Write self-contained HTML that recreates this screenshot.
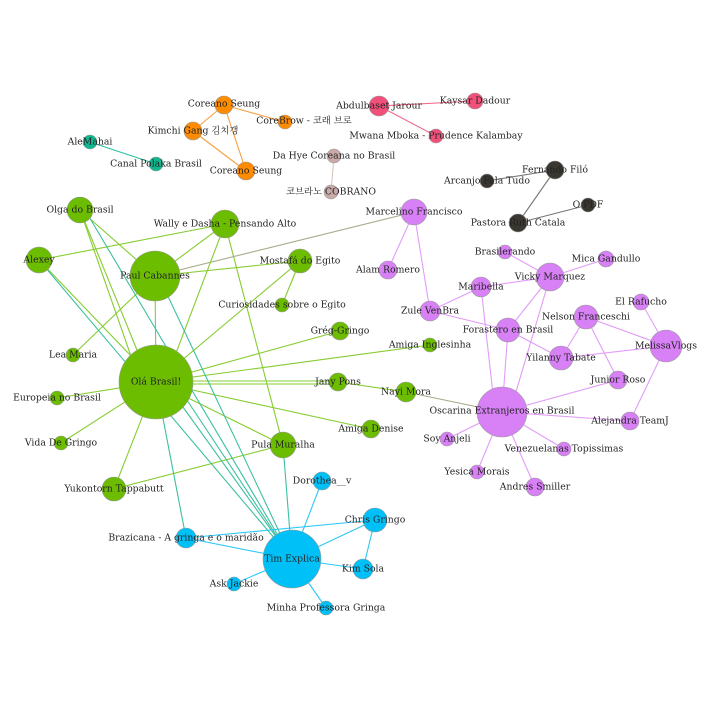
<!DOCTYPE html>
<html><head><meta charset="utf-8"><style>
html,body{margin:0;padding:0;background:#fff;}
svg text{font-family:"DejaVu Serif","Noto Serif CJK SC","Noto Sans CJK KR",serif;font-size:9.3px;fill:#222;text-anchor:middle;dominant-baseline:central;}
circle{stroke:#999;stroke-width:0.6;}
line{stroke-width:1.1;}
</style></head><body>
<svg width="710" height="710" viewBox="0 0 710 710" xmlns="http://www.w3.org/2000/svg">
<g stroke="#f7a040">
<line x1="224" y1="105" x2="285" y2="122"/><line x1="224" y1="105" x2="193" y2="131"/><line x1="224" y1="105" x2="246" y2="171"/><line x1="193" y1="131" x2="246" y2="171"/>
</g>
<line x1="90" y1="142" x2="156" y2="164" stroke="#2cc0a0"/>
<g stroke="#f26a8a"><line x1="379" y1="106" x2="475" y2="101"/><line x1="379" y1="106" x2="436" y2="136"/></g>
<line x1="334" y1="156" x2="331" y2="192" stroke="#d8c4c0"/>
<g stroke="#777"><line x1="487" y1="181" x2="555" y2="170"/><line x1="555" y1="170" x2="518" y2="223"/><line x1="518" y1="223" x2="588" y2="205"/></g>
<g stroke="#e29cf8">
<line x1="414" y1="212" x2="388" y2="270"/><line x1="414" y1="212" x2="430" y2="311"/><line x1="430" y1="311" x2="481" y2="287"/><line x1="430" y1="311" x2="508" y2="330"/>
<line x1="481" y1="287" x2="550" y2="277"/><line x1="505" y1="252" x2="550" y2="277"/><line x1="550" y1="277" x2="606" y2="259"/><line x1="550" y1="277" x2="508" y2="330"/>
<line x1="481" y1="287" x2="495" y2="412"/><line x1="550" y1="277" x2="510" y2="412"/><line x1="508" y1="330" x2="502" y2="412"/><line x1="508" y1="330" x2="561" y2="358"/>
<line x1="586" y1="317" x2="561" y2="358"/><line x1="586" y1="317" x2="666" y2="346"/><line x1="586" y1="317" x2="618" y2="380"/><line x1="641" y1="302" x2="666" y2="346"/>
<line x1="666" y1="346" x2="561" y2="358"/><line x1="666" y1="346" x2="630" y2="421"/><line x1="502" y1="412" x2="618" y2="380"/><line x1="502" y1="412" x2="630" y2="421"/>
<line x1="502" y1="412" x2="447" y2="439"/><line x1="502" y1="412" x2="564" y2="449"/><line x1="502" y1="412" x2="477" y2="472"/><line x1="502" y1="412" x2="535" y2="487"/>
</g>
<g stroke="#a8aa88"><line x1="155" y1="276" x2="414" y2="212"/><line x1="406" y1="392" x2="502" y2="412"/></g>
<g stroke="#86cc30">
<line x1="80" y1="210" x2="155" y2="276"/><line x1="80" y1="210" x2="150" y2="382"/><line x1="80" y1="210" x2="140" y2="382"/>
<line x1="225" y1="224" x2="39" y2="260"/><line x1="225" y1="224" x2="155" y2="276"/><line x1="225" y1="224" x2="165" y2="382"/><line x1="225" y1="224" x2="283" y2="445"/>
<line x1="39" y1="260" x2="156" y2="382"/><line x1="155" y1="276" x2="300" y2="261"/><line x1="155" y1="276" x2="156" y2="382"/><line x1="155" y1="276" x2="73" y2="355"/>
<line x1="300" y1="261" x2="282" y2="305"/><line x1="300" y1="261" x2="156" y2="382"/>
<line x1="156" y1="382" x2="340" y2="331"/><line x1="156" y1="382" x2="430" y2="345"/><line x1="156" y1="381" x2="338" y2="381"/><line x1="156" y1="384" x2="338" y2="384" stroke-width="0.8"/>
<line x1="156" y1="382" x2="371" y2="429"/><line x1="156" y1="382" x2="283" y2="445"/><line x1="156" y1="382" x2="57" y2="398"/><line x1="156" y1="382" x2="61" y2="443"/>
<line x1="156" y1="382" x2="114" y2="489"/><line x1="338" y1="382" x2="406" y2="392"/><line x1="283" y1="445" x2="114" y2="489"/>
</g>
<g stroke="#3cc0a0">
<line x1="85" y1="210" x2="292" y2="559"/><line x1="39" y1="260" x2="292" y2="559"/><line x1="165" y1="290" x2="292" y2="559"/>
<line x1="165" y1="382" x2="292" y2="559"/><line x1="175" y1="382" x2="292" y2="559"/><line x1="156" y1="382" x2="186" y2="538"/><line x1="283" y1="445" x2="292" y2="559"/>
</g>
<g stroke="#2cc8f5">
<line x1="292" y1="559" x2="322" y2="481"/><line x1="292" y1="559" x2="375" y2="520"/><line x1="292" y1="559" x2="363" y2="569"/><line x1="292" y1="559" x2="234" y2="584"/>
<line x1="292" y1="559" x2="326" y2="608"/><line x1="186" y1="538" x2="375" y2="520"/><line x1="375" y1="520" x2="363" y2="569"/><line x1="186" y1="538" x2="292" y2="559"/>
</g>
<g fill="#ff8c00"><circle cx="224" cy="105" r="9"/><circle cx="285" cy="122" r="7"/><circle cx="193" cy="131" r="9"/><circle cx="246" cy="171" r="9"/></g>
<g fill="#10b890"><circle cx="90" cy="142" r="7"/><circle cx="156" cy="164" r="7"/></g>
<g fill="#f0507a"><circle cx="379" cy="106" r="10"/><circle cx="475" cy="101" r="8"/><circle cx="436" cy="136" r="7"/></g>
<g fill="#c8aaa8"><circle cx="334" cy="156" r="7"/><circle cx="331" cy="192" r="7"/></g>
<g fill="#3a3630"><circle cx="555" cy="170" r="9"/><circle cx="487" cy="181" r="7"/><circle cx="588" cy="205" r="7"/><circle cx="518" cy="223" r="9"/></g>
<g fill="#d880f5">
<circle cx="414" cy="212" r="13"/><circle cx="388" cy="270" r="9"/><circle cx="505" cy="252" r="7"/><circle cx="606" cy="259" r="8"/><circle cx="550" cy="277" r="14"/>
<circle cx="481" cy="287" r="10"/><circle cx="430" cy="311" r="10"/><circle cx="508" cy="330" r="12"/><circle cx="586" cy="317" r="12"/><circle cx="641" cy="302" r="8"/>
<circle cx="666" cy="346" r="16"/><circle cx="561" cy="358" r="12"/><circle cx="618" cy="380" r="9"/><circle cx="502" cy="412" r="25"/><circle cx="630" cy="421" r="9"/>
<circle cx="447" cy="439" r="7"/><circle cx="564" cy="449" r="7"/><circle cx="477" cy="472" r="7"/><circle cx="535" cy="487" r="9"/>
</g>
<g fill="#6cbc00">
<circle cx="80" cy="210" r="13"/><circle cx="225" cy="224" r="14"/><circle cx="39" cy="260" r="13"/><circle cx="155" cy="276" r="25"/><circle cx="300" cy="261" r="12"/>
<circle cx="282" cy="305" r="7"/><circle cx="340" cy="331" r="9"/><circle cx="73" cy="355" r="7"/><circle cx="156" cy="382" r="37"/><circle cx="430" cy="345" r="7"/>
<circle cx="338" cy="382" r="9"/><circle cx="406" cy="392" r="10"/><circle cx="57" cy="398" r="7"/><circle cx="371" cy="429" r="9"/><circle cx="61" cy="443" r="7"/>
<circle cx="283" cy="445" r="13"/><circle cx="114" cy="489" r="12"/>
</g>
<g fill="#00c0f8">
<circle cx="322" cy="481" r="9"/><circle cx="375" cy="520" r="12"/><circle cx="186" cy="538" r="10"/><circle cx="292" cy="559" r="29"/><circle cx="363" cy="569" r="10"/>
<circle cx="234" cy="584" r="7"/><circle cx="326" cy="608" r="7"/>
</g>
<text x="224" y="104">Coreano Seung</text><text x="304" y="121">CoreBrow - 코래 브로</text><text x="193" y="131">Kimchi Gang 김치갱</text><text x="246" y="171">Coreano Seung</text>
<text x="90" y="142">AleMahai</text><text x="156" y="164">Canal Polaka Brasil</text>
<text x="379" y="106">Abdulbaset Jarour</text><text x="475" y="101">Kaysar Dadour</text><text x="436" y="136">Mwana Mboka - Prudence Kalambay</text>
<text x="334" y="156">Da Hye Coreana no Brasil</text><text x="331" y="192">코브라노 COBRANO</text>
<text x="555" y="170">Fernando Filó</text><text x="487" y="181">Arcanjo Fala Tudo</text><text x="588" y="205">O PDF</text><text x="518" y="223">Pastora Ruth Catala</text>
<text x="414" y="212">Marcelino Francisco</text><text x="388" y="270">Alam Romero</text><text x="505" y="252">Brasilerando</text><text x="606" y="259">Mica Gandullo</text><text x="550" y="277">Vicky Marquez</text>
<text x="481" y="287">Maribella</text><text x="430" y="311">Zule VenBra</text><text x="508" y="330">Forastero en Brasil</text><text x="586" y="317">Nelson Franceschi</text><text x="641" y="302">El Rafucho</text>
<text x="666" y="346">MelissaVlogs</text><text x="561" y="358">Yilanny Tabate</text><text x="618" y="380">Junior Roso</text><text x="502" y="411">Oscarina Extranjeros en Brasil</text><text x="630" y="421">Alejandra TeamJ</text>
<text x="447" y="439">Soy Anjeli</text><text x="564" y="449">Venezuelanas Topissimas</text><text x="477" y="472">Yesica Morais</text><text x="535" y="487">Andres Smiller</text>
<text x="80" y="210">Olga do Brasil</text><text x="225" y="224">Wally e Dasha - Pensando Alto</text><text x="39" y="260">Alexey</text><text x="155" y="276">Paul Cabannes</text><text x="300" y="261">Mostafá do Egito</text>
<text x="282" y="305">Curiosidades sobre o Egito</text><text x="340" y="331">Grég-Gringo</text><text x="73" y="355">Lea Maria</text><text x="156" y="382">Olá Brasil!</text><text x="430" y="345">Amiga Inglesinha</text>
<text x="338" y="382">Jany Pons</text><text x="406" y="392">Nayi Mora</text><text x="57" y="398">Europeia no Brasil</text><text x="371" y="429">Amiga Denise</text><text x="61" y="443">Vida De Gringo</text>
<text x="283" y="445">Pula Muralha</text><text x="114" y="489">Yukontorn Tappabutt</text>
<text x="322" y="481">Dorothea__v</text><text x="375" y="520">Chris Gringo</text><text x="186" y="538">Brazicana - A gringa e o maridão</text><text x="292" y="559">Tim Explica</text><text x="363" y="569">Kim Sola</text>
<text x="234" y="584">Ask Jackie</text><text x="326" y="608">Minha Professora Gringa</text>
</svg>
</body></html>
